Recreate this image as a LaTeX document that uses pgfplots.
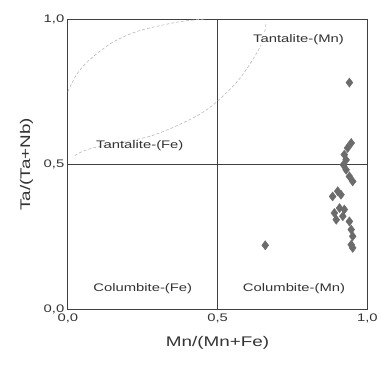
\documentclass[border=0pt]{standalone}
\usepackage{pgfplots}
\pgfplotsset{compat=1.18}
\usepackage{fontspec}
\setmainfont[FakeStretch=1.35]{Liberation Sans}
\begin{document}
\begin{tikzpicture}
\begin{axis}[
  scale only axis, width=300pt, height=291pt,
  xmin=0, xmax=1, ymin=0, ymax=1,
  xtick={0,0.5,1}, ytick={0,0.5,1},
  xticklabels={{0,0},{0,5},{1,0}},
  yticklabels={{0,0},{0,5},{1,0}},
  major tick length=0pt,
  tick label style={font=\fontsize{11}{12}\selectfont, text=black!80},
  xticklabel style={yshift=-1pt},
  xlabel={Mn/(Mn+Fe)}, ylabel={Ta/(Ta+Nb)},
  label style={font=\fontsize{14}{16}\selectfont, text=black!80},
  xlabel style={yshift=-6pt},
  ylabel style={yshift=4pt},
  axis line style={black!75, line width=0.8pt},
  clip=false,
]
\addplot[black!75, line width=0.8pt] coordinates {(0.5,0) (0.5,1)};
\addplot[black!75, line width=0.8pt] coordinates {(0,0.5) (1,0.5)};
\addplot[gray!55, densely dashed, smooth, line width=0.6pt] coordinates {
 (0,0.75) (0.03,0.81) (0.073,0.86) (0.15,0.92) (0.24,0.96) (0.37,0.99) (0.46,1.0)};
\addplot[gray!55, densely dashed, smooth, line width=0.6pt] coordinates {
 (0.023,0.53) (0.08,0.555) (0.27,0.595) (0.40,0.65) (0.48,0.70) (0.57,0.79) (0.64,0.90) (0.66,0.97) (0.66,0.99)};
\addplot[only marks, mark=diamond*, mark size=4.6pt, color=black!58] coordinates {
 (0.940,0.781) (0.659,0.221)
 (0.946,0.573) (0.934,0.556) (0.923,0.533) (0.929,0.515) (0.920,0.498)
 (0.929,0.481) (0.940,0.458) (0.951,0.441)
 (0.901,0.407) (0.884,0.389) (0.912,0.395)
 (0.907,0.349) (0.923,0.344) (0.890,0.332) (0.918,0.321) (0.896,0.309) (0.940,0.303)
 (0.946,0.275) (0.951,0.252) (0.946,0.223) (0.951,0.212)
};
\node[font=\fontsize{11}{12}\selectfont, text=black!80, fill=white, inner sep=1pt] at (axis cs:0.77,0.93) {Tantalite-(Mn)};
\node[font=\fontsize{11}{12}\selectfont, text=black!80] at (axis cs:0.24,0.565) {Tantalite-(Fe)};
\node[font=\fontsize{11}{12}\selectfont, text=black!80] at (axis cs:0.25,0.07) {Columbite-(Fe)};
\node[font=\fontsize{11}{12}\selectfont, text=black!80] at (axis cs:0.755,0.07) {Columbite-(Mn)};
\end{axis}
\path ([shift={(-68pt,-59pt)}]current axis.south west) rectangle ([shift={(13pt,19pt)}]current axis.north east);
\end{tikzpicture}
\end{document}
